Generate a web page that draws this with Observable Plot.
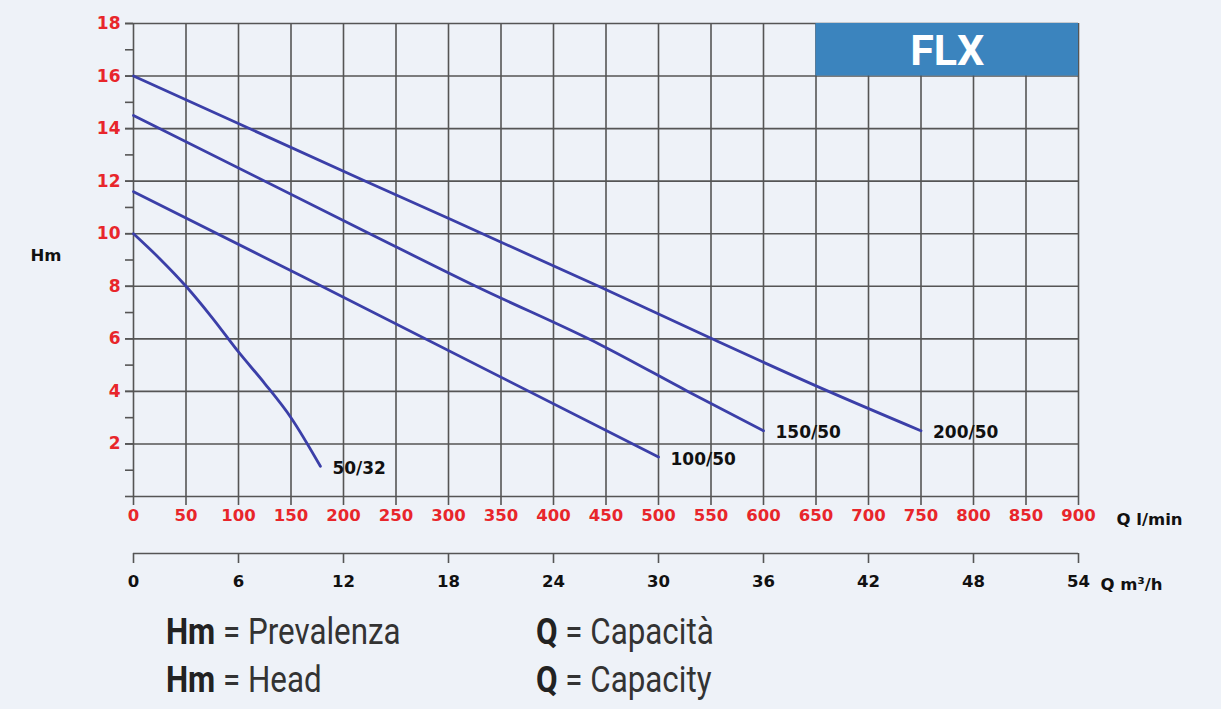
<!DOCTYPE html>
<html>
<head>
<meta charset="utf-8">
<script src="https://cdn.jsdelivr.net/npm/d3@7"></script>
<script src="https://cdn.jsdelivr.net/npm/@observablehq/plot@0.6"></script>
<style>
  html, body { margin: 0; padding: 0; background: #eef2f8; }
  #wrap { position: relative; width: 1221px; height: 709px; overflow: hidden; background: #eef2f8; }
  .row { position: absolute; font-family: Roboto, "Liberation Sans", sans-serif; font-size: 36px; color: #333; white-space: nowrap; transform-origin: left top; transform: scaleX(0.87); }
  .row b { color: #222; font-weight: 700; }
</style>
</head>
<body>
<div id="wrap"><div id="chart"></div>
  <div class="row" style="left:166px; top:611px;"><b>Hm</b> = Prevalenza</div>
  <div class="row" style="left:166px; top:659px;"><b>Hm</b> = Head</div>
  <div class="row" style="left:536px; top:611px;"><b>Q</b> = Capacità</div>
  <div class="row" style="left:536px; top:659px;"><b>Q</b> = Capacity</div>
</div>
<script>
// Models
const models = ["50/32", "100/50", "150/50", "200/50"];
// Flow Q (l/min) and head Hm (m)
const q_50_32  = [0, 25, 50, 75, 100, 125, 150, 178];
const h_50_32  = [10, 9.05, 8, 6.8, 5.5, 4.3, 3.0, 1.15];
const q_100_50 = [0, 161, 500];
const h_100_50 = [11.6, 8.37, 1.5];
const q_150_50 = [0, 225, 326, 446, 528, 600];
const h_150_50 = [14.5, 10.0, 8.0, 5.75, 4.0, 2.5];
const q_200_50 = [0, 221, 443, 551, 662, 750];
const h_200_50 = [16, 12, 8, 6, 4, 2.5];

// Axis ticks
const xTicks = [0, 50, 100, 150, 200, 250, 300, 350, 400, 450, 500, 550, 600, 650, 700, 750, 800, 850, 900];
const yTicks = [0, 2, 4, 6, 8, 10, 12, 14, 16, 18];
const yLabels = [2, 4, 6, 8, 10, 12, 14, 16, 18];
const yMinor = [1, 3, 5, 7, 9, 11, 13, 15, 17];
const m3hTicks = [0, 6, 12, 18, 24, 30, 36, 42, 48, 54];

// Title box
const boxTitle = "FLX";
const box = [{x1: 650, x2: 900, y1: 16, y2: 18}];

const series = [
  [q_50_32, h_50_32], [q_100_50, h_100_50], [q_150_50, h_150_50], [q_200_50, h_200_50]
];
const data = series.flatMap(([qs, hs], i) => qs.map((q, j) => ({model: models[i], q, h: hs[j]})));
const ends = series.map(([qs, hs], i) => ({model: models[i], q: qs[qs.length - 1], h: hs[hs.length - 1]}));

const grid = "#555";
const red = "#e8262b";
const lpmToM3h = d => Math.round(d * 6 / 100);

const chart = Plot.plot({
  width: 1221,
  height: 605,
  marginLeft: 133,
  marginRight: 143,
  marginTop: 23,
  marginBottom: 109,
  style: {background: "#eef2f8", fontFamily: "'DejaVu Sans', sans-serif", overflow: "visible"},
  x: {domain: [0, 900]},
  y: {domain: [0, 18]},
  marks: [
    Plot.gridX(xTicks, {stroke: grid, strokeOpacity: 1, strokeWidth: 1.6}),
    Plot.gridY(yTicks, {stroke: grid, strokeOpacity: 1, strokeWidth: 1.6}),
    Plot.axisY(yTicks, {tickSize: 8, tickFormat: () => "", stroke: grid, strokeWidth: 1.6, label: null}),
    Plot.axisY(yMinor, {tickSize: 8, tickFormat: () => "", stroke: grid, strokeWidth: 1.6, label: null}),
    Plot.axisY(yLabels, {tickSize: 8, tickPadding: 5, stroke: grid, strokeWidth: 1.6, fill: red, fontWeight: "bold", fontSize: 17, label: null}),
    Plot.axisX(xTicks, {tickSize: 9, tickPadding: 4, stroke: grid, strokeWidth: 1.6, fill: red, fontWeight: "bold", fontSize: 16.5, label: null}),
    Plot.ruleY([0], {x1: 0, x2: 900, dy: 57, stroke: grid, strokeWidth: 1.6}),
    Plot.axisX(m3hTicks.map(d => d * 100 / 6), {tickFormat: lpmToM3h, dy: 57, tickSize: 10, tickPadding: 12, stroke: grid, strokeWidth: 1.6, fill: "#111", fontWeight: "bold", fontSize: 16.5, label: null}),
    Plot.text(["Q l/min"], {frameAnchor: "bottom-right", dx: 38, dy: 23, textAnchor: "start", lineAnchor: "middle", fontWeight: "bold", fontSize: 16.5, fill: "#111"}),
    Plot.text(["Q m³/h"], {frameAnchor: "bottom-right", dx: 22, dy: 88, textAnchor: "start", lineAnchor: "middle", fontWeight: "bold", fontSize: 16.5, fill: "#111"}),
    Plot.text(["Hm"], {frameAnchor: "left", dx: -103, dy: -4, textAnchor: "start", lineAnchor: "middle", fontWeight: "bold", fontSize: 16.5, fill: "#111"}),
    Plot.rect(box, {x1: "x1", x2: "x2", y1: "y1", y2: "y2", fill: "#3b84be"}),
    Plot.text(box, {x: d => (d.x1 + d.x2) / 2, y: d => (d.y1 + d.y2) / 2, text: () => boxTitle, fill: "white", fontWeight: "bold", fontSize: 43, fontFamily: "Roboto, sans-serif", lineAnchor: "middle", dy: 1}),
    Plot.line(data, {x: "q", y: "h", z: "model", stroke: "#3b3fa8", strokeWidth: 2.8, curve: "monotone-x"}),
    Plot.text(ends, {x: "q", y: "h", text: "model", dx: 12, dy: 2, textAnchor: "start", lineAnchor: "middle", fontWeight: "bold", fontSize: 17, fill: "#111"})
  ]
});
document.getElementById("chart").appendChild(chart);
</script>
</body>
</html>
